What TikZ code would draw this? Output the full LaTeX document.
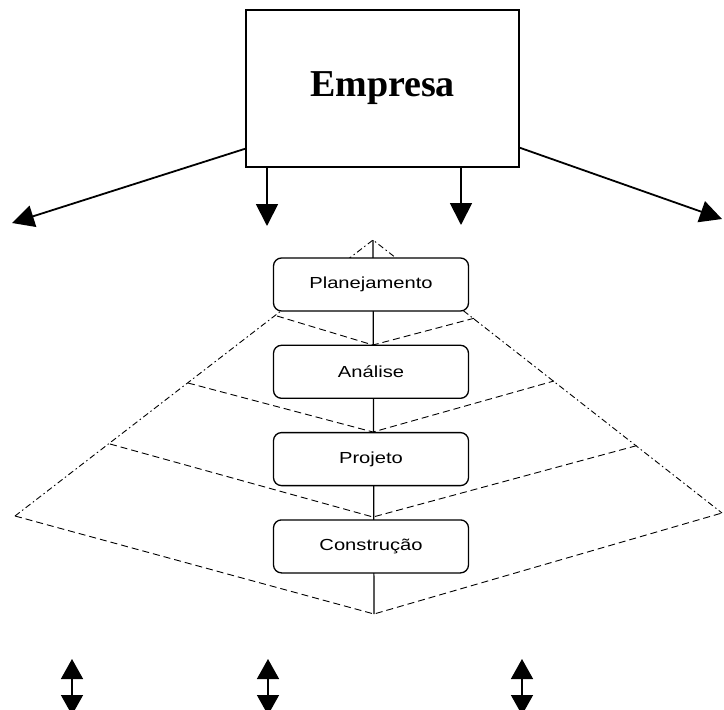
\documentclass[tikz,border=0pt]{standalone}
\usepackage{fontspec}
\setmainfont{Liberation Serif}
\setsansfont{Liberation Sans}
\usepackage{tikz}
\usetikzlibrary{positioning}
\usetikzlibrary{arrows.meta,calc}
\tikzstyle{empresabox}=[draw,line width=1.4pt,fill=white,minimum width=273pt,minimum height=157pt,inner sep=0pt,font=\fontsize{38}{44}\selectfont\bfseries]
\tikzstyle{phase}=[draw,line width=1.3pt,rounded corners=8pt,fill=white,minimum width=195pt,minimum height=53pt,inner sep=0pt,font=\sffamily\fontsize{16}{19}\selectfont]
\tikzstyle{bigedge} = [draw,line width=1.8pt,-{Triangle[length=22pt,width=22pt]}]
\tikzstyle{updown} = [draw,line width=1.5pt,{Triangle[length=20pt,width=22pt]}-{Triangle[length=20pt,width=22pt]}]
\tikzstyle{dashline} = [draw,line width=0.9pt,dash pattern=on 7pt off 4pt]
\tikzstyle{dotdashline} = [draw,line width=0.9pt,dash pattern=on 6pt off 3pt on 1.5pt off 3pt]
\tikzstyle{axisline} = [draw,line width=1.2pt]
\newcommand{\widetext}[1]{\scalebox{1.26}[1]{#1}}

\begin{document}
\begin{tikzpicture}[x=1pt,y=-1pt,node distance=33pt]
    \useasboundingbox (0,0) rectangle (724,710);

    % the pyramid of phases, behind the boxes
    \coordinate (A) at (373,240);
    \coordinate (L) at (15,516);
    \coordinate (R) at (722,513);
    \coordinate (B) at (374,614);
    \foreach \i/\lx/\ly/\rx/\ry/\vy in {1/277/316/475/318/345, 2/188/383/554/381/432, 3/110/444/639/445/517}
    {
        \coordinate (L\i) at (\lx,\ly);
        \coordinate (R\i) at (\rx,\ry);
        \coordinate (V\i) at (373,\vy);
        \path[dashline] (L\i) -- (V\i) -- (R\i);
    }
    \path[dotdashline] (L) -- (A) -- (R);
    \path[dashline] (L) -- (B) -- (R);
    \path[axisline] (A) -- (B);

    % phases
    \node[phase] (plan) at (371,284.5) {\widetext{Planejamento}};
    \node[phase, below=of plan] (anal) {\widetext{Análise}};
    \node[phase, below=of anal] (proj) {\widetext{Projeto}};
    \node[phase, below=of proj] (cons) {\widetext{Construção}};

    % company and its arrows
    \node[empresabox] (emp) at (382.5,88.5) {Empresa};
    \coordinate (tipL) at (12,223);
    \coordinate (tipR) at (722,219);
    \coordinate (tipD1) at (267,226);
    \coordinate (tipD2) at (461,225);
    \path[bigedge] ($(emp.south west)+(0,-19)$) -- (tipL);
    \path[bigedge] ($(emp.south east)+(0,-20)$) -- (tipR);
    \foreach \d in {tipD1, tipD2}
        \path[bigedge] (emp.south -| \d) -- (\d);

    % double arrows at the bottom
    \foreach \i/\x in {1/72, 2/268, 3/522}
    {
        \coordinate (up\i) at (\x,659);
        \coordinate (dn\i) at (\x,715);
        \path[updown] (up\i) -- (dn\i);
    }
\end{tikzpicture}
\end{document}
